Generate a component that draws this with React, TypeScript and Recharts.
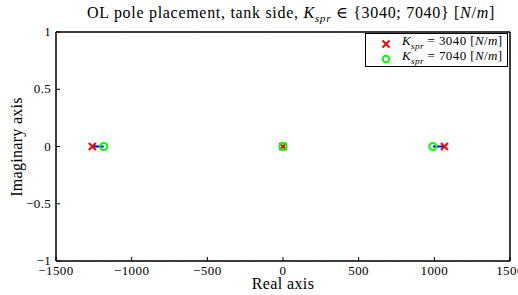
import React from "react";
import {
  ScatterChart,
  Scatter,
  XAxis,
  YAxis,
  CartesianGrid,
} from "recharts";

// open-loop poles, real parts (imag parts are all 0)
const POLES_3040 = [-1260, 0, 1067];
const POLES_7040 = [-1185, 0, 990];
const X_TICKS = [-1500, -1000, -500, 0, 500, 1000, 1500];
const Y_TICKS = [-1, -0.5, 0, 0.5, 1];

const FONT = "'Liberation Serif', 'DejaVu Serif', serif";
const TICK = 4;

const red = POLES_3040.map((re) => ({ re, im: 0 }));
const green = POLES_7040.map((re) => ({ re, im: 0 }));
// locus segments between the two gains (skip the pole that does not move)
const segments = POLES_3040.map((re, i) => [
  { re, im: 0 },
  { re: POLES_7040[i], im: 0 },
]).filter((s) => s[0].re !== s[1].re);

const fmt = (v: number) => String(v).replace("-", "\u2212");

const BottomTick = (p: any) => (
  <g>
    <line x1={p.x} x2={p.x} y1={p.y} y2={p.y - TICK} stroke="#000" />
    <text x={p.x} y={p.y + 14} textAnchor="middle" fontSize={13} letterSpacing={0.4} fontFamily={FONT} fill="#000">
      {fmt(p.payload.value)}
    </text>
  </g>
);
const TopTick = (p: any) => (
  <line x1={p.x} x2={p.x} y1={p.y} y2={p.y + TICK} stroke="#000" />
);
const LeftTick = (p: any) => (
  <g>
    <line x1={p.x} x2={p.x + TICK} y1={p.y} y2={p.y} stroke="#000" />
    <text x={p.x - 5} y={p.y + 4} textAnchor="end" fontSize={13} letterSpacing={0.3} fontFamily={FONT} fill="#000">
      {fmt(p.payload.value)}
    </text>
  </g>
);
const RightTick = (p: any) => (
  <line x1={p.x} x2={p.x - TICK} y1={p.y} y2={p.y} stroke="#000" />
);

const Cross = (p: any) => (
  <path
    d={`M${p.cx - 3.5},${p.cy - 3.5}L${p.cx + 3.5},${p.cy + 3.5}M${p.cx - 3.5},${p.cy + 3.5}L${p.cx + 3.5},${p.cy - 3.5}`}
    stroke="#ff0000"
    strokeWidth={2}
    fill="none"
  />
);
const Ring = (p: any) => (
  <circle cx={p.cx} cy={p.cy} r={3.5} stroke="#00ff00" strokeWidth={2} fill="none" />
);
const Nothing = () => <g />;

const Ksub = () => (
  <>
    <i>K</i>
    <sub style={{ fontSize: "0.7em", fontStyle: "italic" }}>spr</sub>
  </>
);

export default function App() {
  return (
    <div style={{ position: "absolute", left: 0, top: 0, width: 518, height: 295, background: "#fff", fontFamily: FONT }}>
      <div
        style={{
          position: "absolute",
          left: 0,
          top: 3,
          width: 582,
          textAlign: "center",
          fontSize: 16,
          letterSpacing: 0.7,
          whiteSpace: "nowrap",
        }}
      >
        OL pole placement, tank side, <Ksub /> ∈ {"{"}3040; 7040{"}"} [<i>N</i>/<i>m</i>]
      </div>
      <ScatterChart width={518} height={295} margin={{ top: 0, right: 0, bottom: 0, left: 0 }}>
        <CartesianGrid stroke="#aaa" strokeDasharray="1 3.5" />
        <XAxis
          xAxisId="b"
          type="number"
          dataKey="re"
          domain={[-1500, 1500]}
          ticks={X_TICKS}
          interval={0}
          height={34}
          tickSize={0}
          tickMargin={0}
          tick={<BottomTick />}
          axisLine={{ stroke: "#000", strokeWidth: 1.5 }}
          tickLine={false}
        />
        <XAxis
          xAxisId="t"
          orientation="top"
          type="number"
          domain={[-1500, 1500]}
          ticks={X_TICKS}
          interval={0}
          height={32}
          tickSize={0}
          tickMargin={0}
          tick={<TopTick />}
          axisLine={{ stroke: "#000", strokeWidth: 1.5 }}
          tickLine={false}
        />
        <YAxis
          yAxisId="l"
          type="number"
          dataKey="im"
          domain={[-1, 1]}
          ticks={Y_TICKS}
          interval={0}
          width={56}
          tickSize={0}
          tickMargin={0}
          tick={<LeftTick />}
          axisLine={{ stroke: "#000", strokeWidth: 1.5 }}
          tickLine={false}
        />
        <YAxis
          yAxisId="r"
          orientation="right"
          type="number"
          domain={[-1, 1]}
          ticks={Y_TICKS}
          interval={0}
          width={8}
          tickSize={0}
          tickMargin={0}
          tick={<RightTick />}
          axisLine={{ stroke: "#000", strokeWidth: 1.5 }}
          tickLine={false}
        />
        {segments.map((s, i) => (
          <Scatter
            key={i}
            xAxisId="b"
            yAxisId="l"
            data={s}
            line={{ stroke: "#0000ff", strokeWidth: 2 }}
            shape={<Nothing />}
            isAnimationActive={false}
          />
        ))}
        <Scatter xAxisId="b" yAxisId="l" data={red} shape={<Cross />} isAnimationActive={false} />
        <Scatter xAxisId="b" yAxisId="l" data={green} shape={<Ring />} isAnimationActive={false} />
        <text x={283} y={289} textAnchor="middle" fontSize={16} letterSpacing={0.4} fontFamily={FONT} fill="#000">
          Real axis
        </text>
        <text
          x={22}
          y={147}
          transform="rotate(-90 22 147)"
          textAnchor="middle"
          fontSize={16}
          letterSpacing={0.3}
          fontFamily={FONT}
          fill="#000"
        >
          Imaginary axis
        </text>
      </ScatterChart>
      <div
        style={{
          position: "absolute",
          left: 365,
          top: 33,
          width: 141,
          height: 32,
          border: "1px solid #000",
          background: "#fff",
          fontSize: 13,
          letterSpacing: 0.4,
        }}
      >
        {[
          { v: 3040, m: "x" },
          { v: 7040, m: "o" },
        ].map((e, i) => (
          <div key={i} style={{ position: "absolute", left: 0, top: 2 + i * 14.5, height: 14, width: 141, whiteSpace: "nowrap" }}>
            <svg width={10} height={10} style={{ position: "absolute", left: 15, top: 3 }}>
              {e.m === "x" ? (
                <path d="M1.5,1.5L8.5,8.5M1.5,8.5L8.5,1.5" stroke="#ff0000" strokeWidth={2} />
              ) : (
                <circle cx={5} cy={5} r={3.2} stroke="#00ff00" strokeWidth={2} fill="none" />
              )}
            </svg>
            <span style={{ position: "absolute", left: 36, top: -3 }}>
              <Ksub /> = {e.v} [<i>N</i>/<i>m</i>]
            </span>
          </div>
        ))}
      </div>
    </div>
  );
}
